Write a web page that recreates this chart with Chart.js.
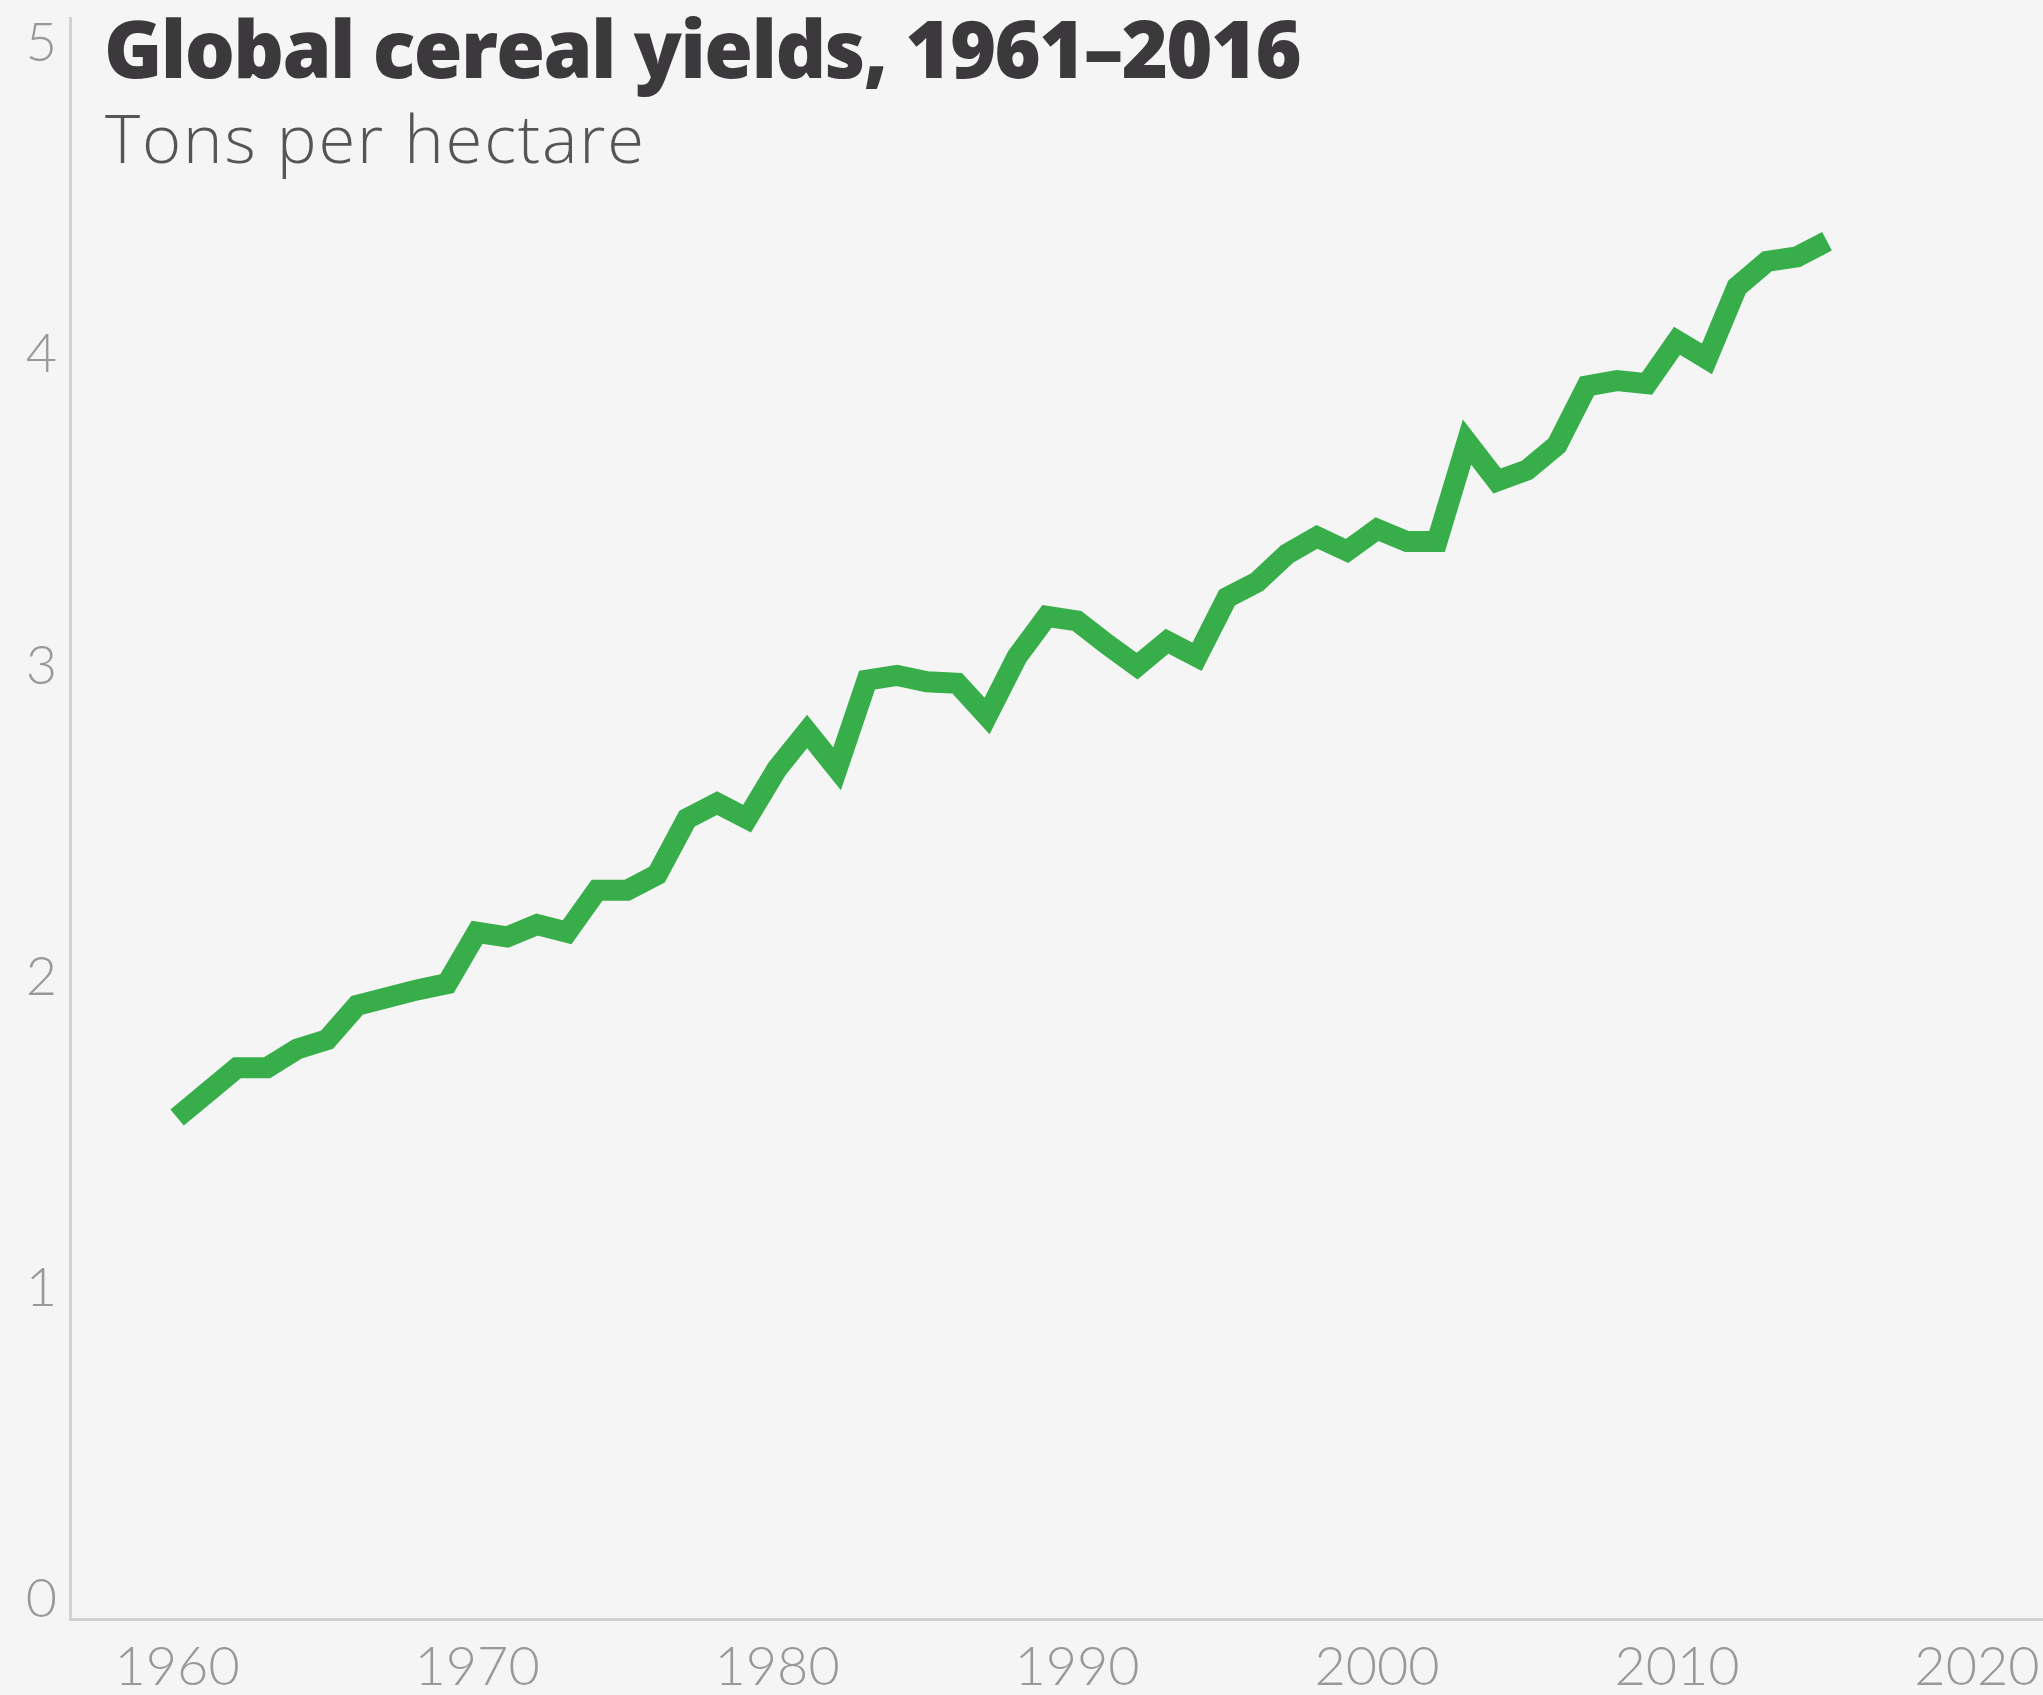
<!DOCTYPE html>
<html>
<head>
<meta charset="utf-8">
<script src="https://cdn.jsdelivr.net/npm/chart.js@4"></script>
<style>
  html, body { margin: 0; padding: 0; background: #f5f5f5; }
  #wrap { width: 2043px; height: 1695px; position: relative; }
  canvas { display: block; }
</style>
</head>
<body>
<div id="wrap"><canvas id="c" width="2043" height="1695"></canvas></div>
<script>
// Years as positioned on the chart's x axis
const years = [1960,1961,1962,1963,1964,1965,1966,1967,1968,1969,
               1970,1971,1972,1973,1974,1975,1976,1977,1978,1979,
               1980,1981,1982,1983,1984,1985,1986,1987,1988,1989,
               1990,1991,1992,1993,1994,1995,1996,1997,1998,1999,
               2000,2001,2002,2003,2004,2005,2006,2007,2008,2009,
               2010,2011,2012,2013,2014,2015];
// Cereal yield, tons per hectare
const yields = [1.55,1.63,1.71,1.71,1.77,1.80,1.91,1.935,1.96,1.98,
                2.145,2.13,2.17,2.145,2.28,2.28,2.33,2.51,2.56,2.51,
                2.67,2.79,2.67,2.955,2.97,2.95,2.945,2.84,3.03,3.16,
                3.145,3.07,3.00,3.08,3.03,3.22,3.27,3.36,3.415,3.37,
                3.44,3.40,3.40,3.72,3.595,3.63,3.71,3.90,3.917,3.907,
                4.045,3.987,4.218,4.30,4.315,4.365];
const xTicks = [1960,1970,1980,1990,2000,2010,2020];
const yTicks = [0,1,2,3,4,5];
const titleText = "Global cereal yields, 1961\u20132016";
const subtitleText = "Tons per hectare";

function drawFitted(ctx, text, x, y, font, color, targetWidth) {
  ctx.font = font;
  ctx.fillStyle = color;
  if ('letterSpacing' in ctx) ctx.letterSpacing = '0px';
  const w = ctx.measureText(text).width;
  const n = Math.max(1, text.length - 1);
  const ls = (targetWidth - w) / n;
  if ('letterSpacing' in ctx) ctx.letterSpacing = ls.toFixed(2) + 'px';
  ctx.fillText(text, x, y);
  if ('letterSpacing' in ctx) ctx.letterSpacing = '0px';
}

const headerPlugin = {
  id: 'header',
  afterDraw(chart) {
    const ctx = chart.ctx;
    ctx.save();
    ctx.textAlign = 'left';
    ctx.textBaseline = 'alphabetic';
    drawFitted(ctx, titleText, 104, 78, '800 79px "Open Sans"', '#3c393d', 1198);
    drawFitted(ctx, subtitleText, 105, 163, '300 67px "Open Sans"', '#555555', 539);
    ctx.restore();
  }
};

const bgPlugin = {
  id: 'bg',
  beforeDraw(chart) {
    const ctx = chart.ctx;
    ctx.save();
    ctx.fillStyle = '#f5f5f5';
    ctx.fillRect(0, 0, chart.width, chart.height);
    ctx.restore();
  }
};

const tickFont = { family: 'Lato', size: 54, weight: '300' };

new Chart(document.getElementById('c'), {
  type: 'line',
  data: {
    datasets: [{
      data: years.map((y, i) => ({ x: y, y: yields[i] })),
      borderColor: '#37ae4a',
      borderWidth: 21,
      borderJoinStyle: 'miter',
      borderCapStyle: 'butt',
      pointRadius: 0,
      tension: 0,
      fill: false
    }]
  },
  options: {
    responsive: false,
    animation: false,
    devicePixelRatio: 1,
    layout: { padding: { top: 18, left: 0, right: 0, bottom: 0 } },
    plugins: { legend: { display: false }, tooltip: { enabled: false } },
    scales: {
      x: {
        type: 'linear',
        min: 1956.43,
        max: 2022.2,
        afterBuildTicks(scale) { scale.ticks = xTicks.map(v => ({ value: v })); },
        afterFit(scale) {
          scale.height = 76;
          scale.paddingLeft = 0; scale.paddingRight = 0;
          scale.paddingTop = 0; scale.paddingBottom = 0;
        },
        grid: { display: false, drawTicks: false },
        border: { display: true, color: '#d2d2d2', width: 3 },
        ticks: {
          font: tickFont,
          color: '#999999',
          padding: 16,
          maxRotation: 0,
          autoSkip: false,
          callback: v => String(v)
        }
      },
      y: {
        min: -0.061,
        max: 5.082,
        afterBuildTicks(scale) { scale.ticks = yTicks.map(v => ({ value: v })); },
        afterFit(scale) {
          scale.width = 70;
          scale.paddingTop = 0; scale.paddingBottom = 0;
          scale.paddingLeft = 0; scale.paddingRight = 0;
        },
        grid: { display: false, drawTicks: false },
        border: { display: true, color: '#d2d2d2', width: 3 },
        ticks: {
          font: tickFont,
          color: '#999999',
          padding: 13,
          autoSkip: false,
          callback: v => String(v)
        }
      }
    }
  },
  plugins: [bgPlugin, headerPlugin]
});
</script>
</body>
</html>
